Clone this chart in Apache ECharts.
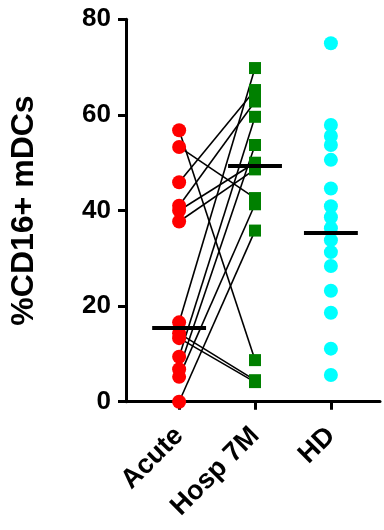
<!DOCTYPE html>
<html><head><meta charset="utf-8">
<script src="https://cdn.jsdelivr.net/npm/echarts@6/dist/echarts.min.js"></script>
<style>html,body{margin:0;padding:0;background:#fff}#c{width:384px;height:530px}</style>
</head><body><div id="c"></div>
<script>
const categories = ['Acute', 'Hosp 7M', 'HD'];
// paired values: acute[i] <-> hosp7m[i]
const acute  = [56.8, 53.3, 45.9, 41.0, 40.0, 37.7, 16.6, 14.3, 13.3, 9.4, 6.8, 5.2, 0];
const hosp7m = [8.7, 42.6, 65.2, 62.8, 50.0, 48.6, 69.8, 4.5, 4.1, 59.6, 53.7, 41.3, 35.8];
const hd = [75.0, 57.9, 55.6, 53.7, 50.6, 44.6, 40.9, 38.6, 36.3, 33.8, 31.3, 28.4, 23.2, 18.6, 11.1, 5.6];
const medians = [15.4, 49.3, 35.4];
const yTicks = [0, 20, 40, 60, 80];

const font = 'Liberation Sans, Arial, sans-serif';
const chart = echarts.init(document.getElementById('c'), null, {renderer: 'canvas'});
const catIdx = categories.map((c, i) => i);

chart.setOption({
  animation: false,
  backgroundColor: '#fff',
  grid: {left: 125, right: 4, top: 19.3, bottom: 128.3, containLabel: false},
  xAxis: {
    type: 'value', min: -0.7, max: 2.647,
    axisLine: {show: true, onZero: false, lineStyle: {color: '#000', width: 3}},
    axisTick: {show: true, customValues: catIdx, length: 8, lineStyle: {color: '#000', width: 3}},
    axisLabel: {
      customValues: catIdx, rotate: 45, margin: 30,
      formatter: v => categories[Math.round(v)],
      color: '#000', fontFamily: font, fontWeight: 'bold', fontSize: 27
    },
    splitLine: {show: false}
  },
  yAxis: {
    type: 'value', min: yTicks[0], max: yTicks[yTicks.length - 1], interval: 20,
    name: '%CD16+ mDCs', nameLocation: 'middle', nameGap: 86, nameRotate: 90,
    nameTextStyle: {color: '#000', fontFamily: font, fontWeight: 'bold', fontSize: 32},
    axisLine: {show: true, onZero: false, lineStyle: {color: '#000', width: 3}},
    axisTick: {show: true, length: 8, lineStyle: {color: '#000', width: 3}},
    axisLabel: {color: '#000', fontFamily: font, fontWeight: 'bold', fontSize: 26, margin: 15},
    splitLine: {show: false}
  },
  series: [
    {
      type: 'lines', coordinateSystem: 'cartesian2d', z: 1, silent: true,
      lineStyle: {color: '#000', width: 1.6, opacity: 1},
      data: acute.map((a, i) => ({coords: [[0, a], [1, hosp7m[i]]]}))
    },
    {
      type: 'scatter', z: 3, symbol: 'circle', symbolSize: 14,
      itemStyle: {color: '#FF0000', opacity: 1},
      data: acute.map(v => [0, v])
    },
    {
      type: 'scatter', z: 3, symbol: 'rect', symbolSize: 12,
      itemStyle: {color: '#008000', opacity: 1},
      data: hosp7m.map(v => [1, v])
    },
    {
      type: 'scatter', z: 3, symbol: 'circle', symbolSize: 14,
      itemStyle: {color: '#00FFFF', opacity: 1},
      data: hd.map(v => [2, v])
    },
    {
      type: 'lines', coordinateSystem: 'cartesian2d', z: 5, silent: true,
      lineStyle: {color: '#000', width: 4, opacity: 1},
      data: medians.map((m, i) => ({coords: [[i - 0.355, m], [i + 0.355, m]]}))
    }
  ]
});
</script>
</body></html>
